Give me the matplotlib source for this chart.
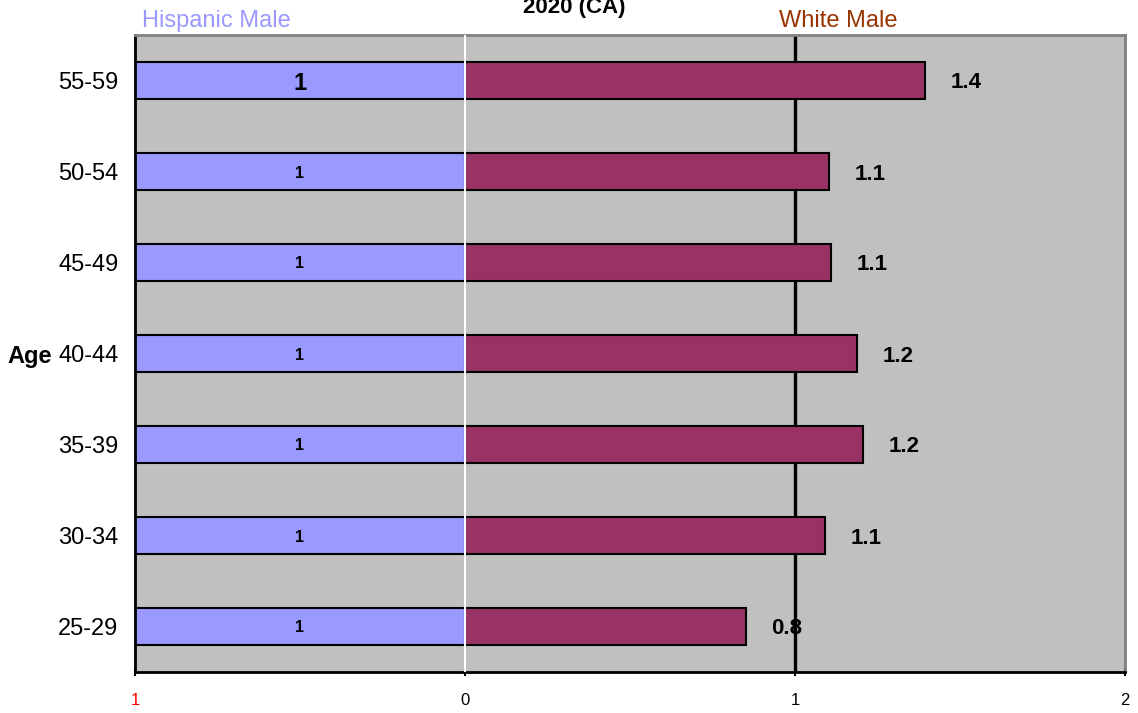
import matplotlib
matplotlib.use("Agg")
import matplotlib.pyplot as plt
import matplotlib.transforms as mtransforms

plt.rcParams["font.family"] = ["Liberation Sans", "DejaVu Sans"]

age_groups = ["25-29", "30-34", "35-39", "40-44", "45-49", "50-54", "55-59"]
hispanic_male = [1, 1, 1, 1, 1, 1, 1]
white_male = [0.85, 1.091, 1.206, 1.188, 1.109, 1.103, 1.394]
x_ticks = [-1, 0, 1, 2]
x_tick_labels = ["1", "0", "1", "2"]

fig = plt.figure(figsize=(11.38, 7.13), dpi=100)
ax = fig.add_axes([135 / 1138, 1 - 672 / 713, 990 / 1138, 637 / 713])
ax.set_facecolor("#C0C0C0")

y = list(range(len(age_groups)))
ax.barh(y, [-v for v in hispanic_male], height=0.4, color="#9999FF",
        edgecolor="black", linewidth=1.5, zorder=2)
ax.barh(y, white_male, height=0.4, color="#993366",
        edgecolor="black", linewidth=1.5, zorder=2)

ax.axvline(1, color="black", linewidth=2.4, zorder=1.5)
ax.axvline(0, color="white", linewidth=1.5, zorder=3)

# value labels
for i, (h, w) in enumerate(zip(hispanic_male, white_male)):
    top = i == len(age_groups) - 1
    ax.text(-h / 2, i, f"{h:g}", ha="center", va="center_baseline",
            fontweight="bold", fontsize=17 if top else 11.5, zorder=4)
    ax.text(w + 0.125, i, f"{w:.1f}", ha="center",
            va="center_baseline", fontweight="bold", fontsize=16, zorder=1)

ax.set_xlim(-1, 2)
ax.set_ylim(-0.5, len(age_groups) - 0.5)
ax.set_xticks(x_ticks)
ax.set_xticklabels(x_tick_labels, fontsize=12)
ax.get_xticklabels()[0].set_color("red")
ax.set_yticks(y)
ax.set_yticklabels(age_groups, fontsize=17)
ax.tick_params(axis="y", length=0, pad=12)
ax.tick_params(axis="x", length=6, width=1.5, direction="inout", pad=12)

for side in ["top", "right"]:
    ax.spines[side].set_color("#808080")
    ax.spines[side].set_linewidth(2)
for side in ["left", "bottom"]:
    ax.spines[side].set_color("black")
    ax.spines[side].set_linewidth(2)

trans = mtransforms.blended_transform_factory(fig.transFigure, ax.transData)
ax.text(52 / 1138, age_groups.index("40-44"), "Age", transform=trans,
        ha="right", va="center_baseline", fontsize=17, fontweight="bold")

fig.text(574 / 1138, 1 - 13 / 713, "2020 (CA)", ha="center", va="baseline",
         fontsize=16, fontweight="bold")
fig.text(216 / 1138, 1 - 27 / 713, "Hispanic Male", ha="center",
         va="baseline", fontsize=17, color="#9999FF")
fig.text(838 / 1138, 1 - 27 / 713, "White Male", ha="center",
         va="baseline", fontsize=17, color="#993300")

fig.savefig("out.png", dpi=100)
